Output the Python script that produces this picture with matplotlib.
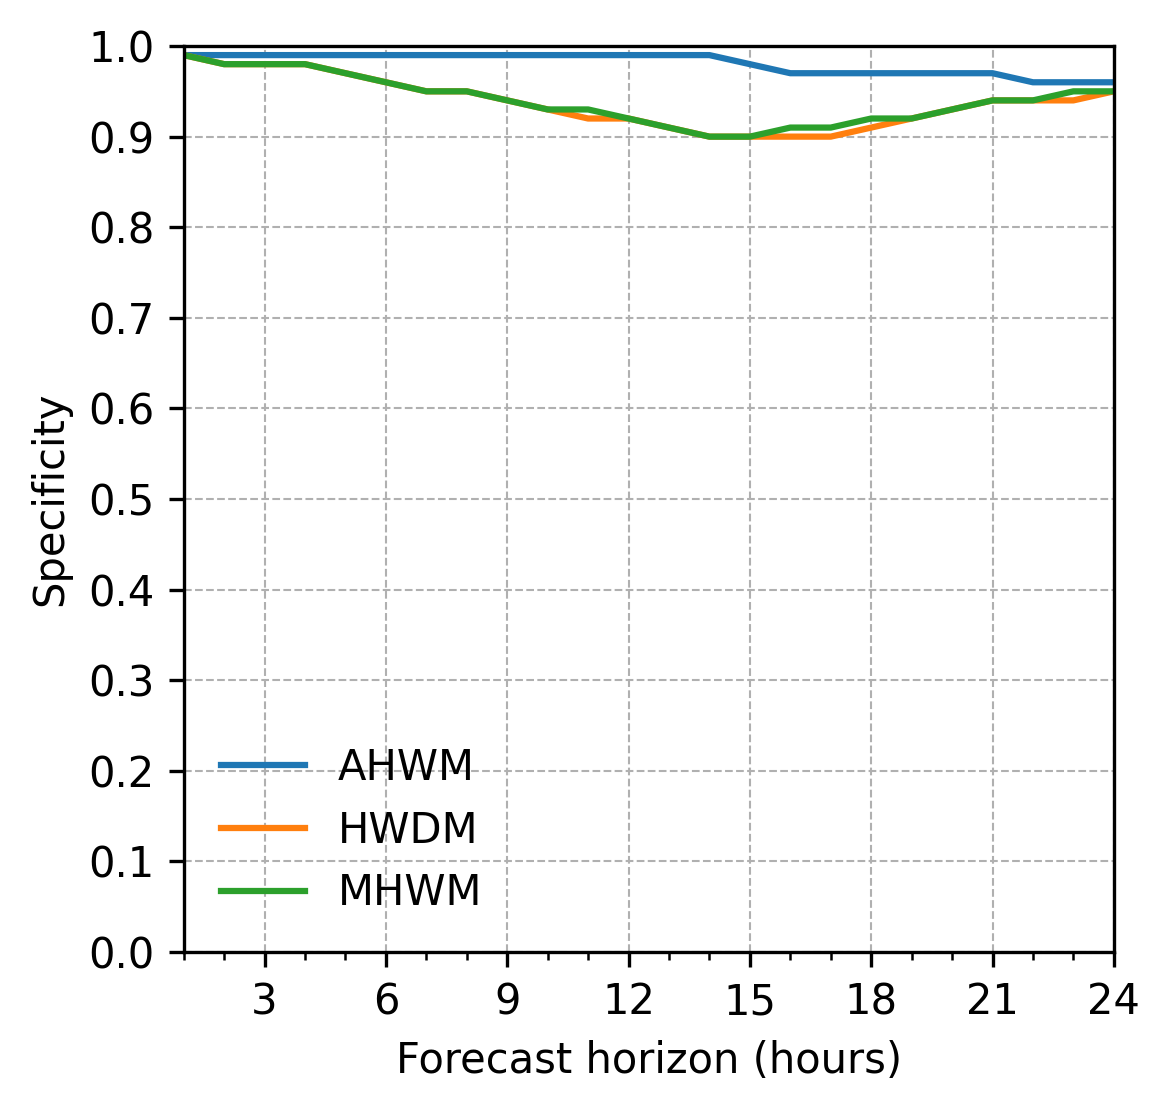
import matplotlib
matplotlib.use("Agg")
import matplotlib.pyplot as plt
from matplotlib.ticker import MultipleLocator

hours = list(range(1, 25))
ahwm = [0.99]*14 + [0.98] + [0.97]*6 + [0.96]*3
hwdm = [0.99, 0.98, 0.98, 0.98, 0.97, 0.96, 0.95, 0.95, 0.94, 0.93, 0.92, 0.92,
        0.91, 0.90, 0.90, 0.90, 0.90, 0.91, 0.92, 0.93, 0.94, 0.94, 0.94, 0.95]
mhwm = [0.99, 0.98, 0.98, 0.98, 0.97, 0.96, 0.95, 0.95, 0.94, 0.93, 0.93, 0.92,
        0.91, 0.90, 0.90, 0.91, 0.91, 0.92, 0.92, 0.93, 0.94, 0.94, 0.95, 0.95]

plt.rcParams['font.size'] = 10
fig = plt.figure(figsize=(3.9, 1112/300), dpi=300)
ax = fig.add_axes([0.157, 0.1439, 0.795, 0.8147])
ax.plot(hours, ahwm, color='#1f77b4', lw=1.5, label='AHWM')
ax.plot(hours, hwdm, color='#ff7f0e', lw=1.5, label='HWDM')
ax.plot(hours, mhwm, color='#2ca02c', lw=1.5, label='MHWM')
ax.set_xlim(1, 24)
ax.set_ylim(0, 1)
ax.xaxis.set_major_locator(MultipleLocator(3))
ax.xaxis.set_minor_locator(MultipleLocator(1))
ax.yaxis.set_major_locator(MultipleLocator(0.1))
ax.grid(True, which='major', linestyle='--', linewidth=0.5, color='#b0b0b0')
ax.set_xlabel('Forecast horizon (hours)')
ax.set_ylabel('Specificity')
ax.legend(loc='lower left', frameon=False)
fig.savefig('out.png', dpi=300)
